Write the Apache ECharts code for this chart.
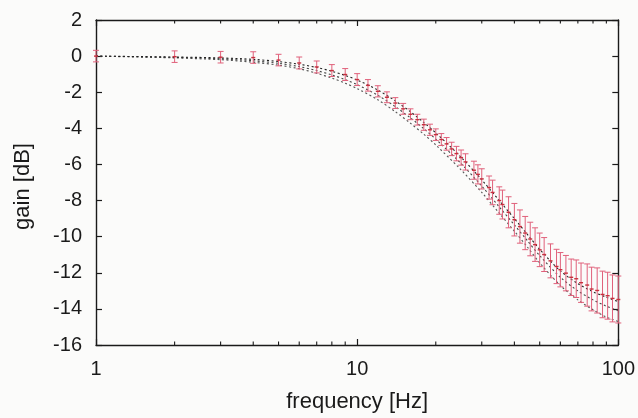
<!DOCTYPE html>
<html>
<head>
<meta charset="utf-8">
<script src="https://cdn.jsdelivr.net/npm/echarts@6/dist/echarts.min.js"></script>
<style>
  html, body { margin: 0; padding: 0; background: #fbfbfa; }
  #chart { width: 638px; height: 418px; }
</style>
</head>
<body>
<div id="chart"></div>
<script>
// Measured gain: mean and half-width of the error bar at each test frequency
const freqs = [
  1, 2, 3, 4, 5, 6, 7, 8, 9, 10,
  11, 12, 13, 14, 15, 16, 17, 18, 19, 20,
  21, 22, 23, 24, 25, 26, 28, 29, 30, 32,
  33, 35, 36, 38, 40, 42, 44, 46, 48, 50,
  52, 55, 58, 60, 63, 66, 69, 72, 76, 79,
  83, 87, 91, 95, 100
];
const gainMean = [
  0.00, -0.03, -0.06, -0.08, -0.22, -0.38, -0.60, -0.80, -1.02, -1.30,
  -1.62, -1.95, -2.28, -2.60, -2.92, -3.22, -3.52, -3.80, -4.08, -4.35,
  -4.62, -4.86, -5.14, -5.40, -5.62, -5.86, -6.32, -6.55, -6.80, -7.28,
  -7.55, -8.00, -8.22, -8.65, -9.06, -9.44, -9.80, -10.13, -10.44, -10.73,
  -10.99, -11.34, -11.65, -11.83, -12.02, -12.25, -12.33, -12.55, -12.68, -12.90,
  -12.98, -13.20, -13.27, -13.42, -13.48
];
const gainErr = [
  0.32, 0.32, 0.32, 0.32, 0.32, 0.33, 0.33, 0.33, 0.33, 0.33,
  0.32, 0.31, 0.30, 0.30, 0.30, 0.30, 0.30, 0.31, 0.31, 0.32,
  0.33, 0.35, 0.37, 0.40, 0.42, 0.45, 0.50, 0.53, 0.56, 0.64,
  0.68, 0.76, 0.80, 0.86, 0.90, 0.92, 0.92, 0.93, 0.93, 0.93,
  0.94, 0.94, 0.95, 0.95, 0.98, 1.01, 1.04, 1.09, 1.17, 1.21,
  1.25, 1.29, 1.30, 1.30, 1.30
];

// Model curves (dotted)
const modelFreq = [1, 2, 3, 4, 5, 6, 7, 8, 9, 10, 12, 14, 16, 18, 20, 25, 30, 35, 40, 45, 50, 60, 70, 80, 90, 100];
const modelA = [0, -0.05, -0.10, -0.18, -0.30, -0.45, -0.63, -0.84, -1.07, -1.32, -1.88, -2.48, -3.08, -3.68, -4.25, -5.60, -6.85, -8.00, -9.00, -9.90, -10.70, -11.90, -12.60, -13.05, -13.35, -13.60];
const modelB = [0, -0.07, -0.15, -0.26, -0.40, -0.58, -0.80, -1.04, -1.30, -1.58, -2.17, -2.80, -3.42, -4.02, -4.60, -5.95, -7.20, -8.35, -9.35, -10.25, -11.05, -12.25, -13.00, -13.50, -13.85, -14.10];
const modelC = [0, -0.10, -0.20, -0.34, -0.50, -0.70, -0.95, -1.22, -1.50, -1.80, -2.42, -3.08, -3.72, -4.33, -4.92, -6.30, -7.55, -8.70, -9.70, -10.60, -11.45, -12.70, -13.50, -14.05, -14.45, -14.70];

// Axis ticks
const xMajorTicks = [1, 10, 100];
const xMinorTicks = [2, 3, 4, 5, 6, 7, 8, 9, 20, 30, 40, 50, 60, 70, 80, 90];
const yMin = -16, yMax = 2, yStep = 2;

const FONT = 'Liberation Sans, Arial, Helvetica, sans-serif';
const INK = '#1a1a1a';
const BAR = '#e0607a';
const BAR_MID = '#c8303e';

const chart = echarts.init(document.getElementById('chart'), null, { renderer: 'canvas' });

function pair(xs, ys) { return xs.map((x, i) => [x, ys[i]]); }

function dotted(name, ys, color) {
  return {
    name, type: 'line', data: pair(modelFreq, ys), smooth: 0.3, symbol: 'none',
    lineStyle: { color, width: 1.1, type: [2, 2.5] }, z: 3, silent: true
  };
}

const errData = freqs.map((f, i) => [f, gainMean[i], gainErr[i]]);

const frameAxis = { show: true, onZero: false, lineStyle: { color: INK, width: 1.4 } };
const frameTick = { show: true, inside: true, length: 6, lineStyle: { color: INK, width: 1.2 } };

const option = {
  backgroundColor: '#fbfbfa',
  animation: false,
  grid: { left: 96, right: 17, top: 20, bottom: 71 },
  xAxis: [{
    type: 'log', logBase: 10, min: 1, max: 100, position: 'bottom',
    name: 'frequency [Hz]', nameLocation: 'middle', nameGap: 46,
    nameTextStyle: { fontFamily: FONT, fontSize: 22, color: INK },
    axisLine: frameAxis, axisTick: frameTick,
    axisLabel: { fontFamily: FONT, fontSize: 20, color: INK, margin: 14,
      formatter: v => xMajorTicks.includes(Math.round(v)) ? String(Math.round(v)) : '' },
    splitLine: { show: false }
  }, {
    type: 'log', logBase: 10, min: 1, max: 100, position: 'top',
    axisLine: frameAxis, axisTick: frameTick,
    axisLabel: { show: false }, splitLine: { show: false }
  }],
  yAxis: [{
    type: 'value', min: yMin, max: yMax, interval: yStep, position: 'left',
    name: 'gain [dB]', nameLocation: 'middle', nameGap: 62, nameRotate: 90,
    nameTextStyle: { fontFamily: FONT, fontSize: 22, color: INK, padding: [0, 8, 0, 0] },
    axisLine: frameAxis, axisTick: frameTick,
    axisLabel: { fontFamily: FONT, fontSize: 20, color: INK, margin: 14 },
    splitLine: { show: false }
  }, {
    type: 'value', min: yMin, max: yMax, interval: yStep, position: 'right',
    axisLine: frameAxis, axisTick: frameTick,
    axisLabel: { show: false }, splitLine: { show: false }
  }],
  series: [
    dotted('model C', modelC, '#555'),
    dotted('model B', modelB, '#444'),
    dotted('model A', modelA, '#222'),
    {
      name: 'measured', type: 'custom', z: 4, silent: true,
      data: errData,
      renderItem: (params, api) => {
        const f = api.value(0), m = api.value(1), e = api.value(2);
        const top = api.coord([f, m + e]);
        const bot = api.coord([f, m - e]);
        const mid = api.coord([f, m]);
        const cap = 3;
        const style = { stroke: BAR, lineWidth: 1 };
        return {
          type: 'group',
          children: [
            { type: 'line', shape: { x1: top[0], y1: top[1], x2: bot[0], y2: bot[1] }, style },
            { type: 'line', shape: { x1: top[0] - cap, y1: top[1], x2: top[0] + cap, y2: top[1] }, style },
            { type: 'line', shape: { x1: bot[0] - cap, y1: bot[1], x2: bot[0] + cap, y2: bot[1] }, style },
            { type: 'line', shape: { x1: mid[0] - 2, y1: mid[1], x2: mid[0] + 2, y2: mid[1] }, style: { stroke: BAR_MID, lineWidth: 1.4 } }
          ]
        };
      }
    },
    {
      // minor ticks of the log axis, drawn inward at bottom and top
      name: 'minorTicks', type: 'custom', z: 5, silent: true,
      data: xMinorTicks.map(f => [f]),
      renderItem: (params, api) => {
        const f = api.value(0);
        const b = api.coord([f, yMin]);
        const t = api.coord([f, yMax]);
        const style = { stroke: INK, lineWidth: 1.1 };
        return {
          type: 'group',
          children: [
            { type: 'line', shape: { x1: b[0], y1: b[1], x2: b[0], y2: b[1] - 3.5 }, style },
            { type: 'line', shape: { x1: t[0], y1: t[1], x2: t[0], y2: t[1] + 3.5 }, style }
          ]
        };
      }
    }
  ]
};

chart.setOption(option);
</script>
</body>
</html>
